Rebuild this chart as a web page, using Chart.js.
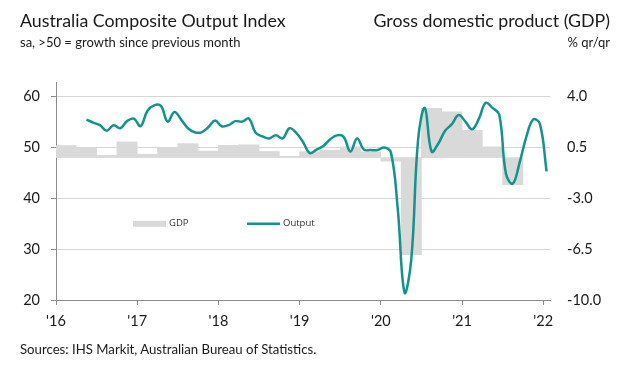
<!DOCTYPE html>
<html>
<head>
<meta charset="utf-8">
<script src="https://cdn.jsdelivr.net/npm/chart.js@4.4.1/dist/chart.umd.min.js"></script>
<style>
  body { margin: 0; background: #fff; }
  #wrap { position: relative; width: 621px; height: 371px; font-family: Lato, "Noto Sans", sans-serif; color: #1a1a1a; }
  #wrap canvas { position: absolute; left: 0; top: 0; }
  .txt { position: absolute; white-space: nowrap; line-height: 1; }
  #title { left: 20px; top: 12px; font-size: 17.8px; }
  #sub { left: 20px; top: 36px; font-size: 13px; }
  #rtitle { right: 11px; top: 12px; font-size: 17.8px; }
  #rsub { right: 11px; top: 36px; font-size: 13px; }
  #src { left: 20px; top: 343px; font-size: 13.2px; }
</style>
</head>
<body>
<div id="wrap">
  <canvas id="pmiChart" width="621" height="371"></canvas>
  <div class="txt" id="title">Australia Composite Output Index</div>
  <div class="txt" id="sub">sa, &gt;50 = growth since previous month</div>
  <div class="txt" id="rtitle">Gross domestic product (GDP)</div>
  <div class="txt" id="rsub">% qr/qr</div>
  <div class="txt" id="src">Sources: IHS Markit, Australian Bureau of Statistics.</div>
</div>
<script>
// ──────── DATA ────────
const yearLabels = ["'16", "'17", "'18", "'19", "'20", "'21", "'22"];
const leftTicks = [20, 30, 40, 50, 60];
const rightTicks = [-10, -6.5, -3, 0.5, 4];

// GDP, quarterly from 2016 Q1 (% qr/qr, read on right axis)
const gdpQuarters = ["Q1 16", "Q2 16", "Q3 16", "Q4 16", "Q1 17", "Q2 17", "Q3 17", "Q4 17",
  "Q1 18", "Q2 18", "Q3 18", "Q4 18", "Q1 19", "Q2 19", "Q3 19", "Q4 19",
  "Q1 20", "Q2 20", "Q3 20", "Q4 20", "Q1 21", "Q2 21", "Q3 21"];
const gdp = [0.64, 0.48, -0.04, 0.89, 0.04, 0.48, 0.77, 0.26,
  0.65, 0.69, 0.23, -0.10, 0.22, 0.32, 0.55, 0.20,
  -0.44, -6.88, 3.20, 2.96, 1.70, 0.55, -2.05];

// Composite output index, monthly from May 2016 to Jan 2022
const outputFirstMonth = 4; // months after Jan 2016
const output = [
  55.5, 54.9, 54.4, 53.3, 54.4, 53.8, 55.2, 55.7,            // May-Dec 16
  54.2, 57.2, 58.3, 58.2, 55.1, 57.0, 55.5, 53.8, 53.0, 53.0, 54.0, 55.3,  // 17
  54.2, 54.4, 55.2, 55.1, 55.7, 52.9, 52.2, 51.8, 52.4, 51.8, 53.8, 52.9,  // 18
  51.1, 48.9, 49.6, 50.3, 51.6, 52.4, 52.1, 49.2, 51.8, 49.6, 49.5, 49.5,  // 19
  50.0, 49.0, 38.0, 21.5, 28.0, 51.4, 57.8, 49.2, 50.8, 53.3, 54.6, 56.4,  // 20
  55.1, 53.6, 55.7, 58.8, 57.8, 56.5, 44.8, 42.9, 47.0, 52.1, 55.5, 54.7,  // 21
  45.3                                                        // Jan 22
];

// ──────── LAYOUT / STYLE ────────
const AXIS_TOP = 62.9;          // left axis runs a little above the 60 line
const BAR_BASE = -0.19;         // bars stand on this right-axis value
const TEAL = "#10958c";
const BAR_GREY = "#d9d9d9";
const AXIS_GREY = "#8c8c8c";
const tickFont = { family: "Lato", size: 14.5 };

const monthsPerQuarter = 3;
const gdpPoints = gdp.map((v, i) => ({ x: i * monthsPerQuarter + 1.5, y: v }));
const outputPoints = output.map((v, i) => ({ x: outputFirstMonth + i + 0.5, y: v }));

// legend drawn inside the plot
const insideLegend = {
  id: "insideLegend",
  afterDatasetsDraw(chart) {
    const { ctx, chartArea } = chart;
    const y = chart.scales.y.getPixelForValue(35);
    const x0 = chartArea.left + 77;
    const x1 = chartArea.left + 191;
    ctx.save();
    ctx.fillStyle = BAR_GREY;
    ctx.fillRect(x0, y - 3, 33, 6);
    ctx.strokeStyle = TEAL;
    ctx.lineWidth = 2.5;
    ctx.beginPath();
    ctx.moveTo(x1, y);
    ctx.lineTo(x1 + 33, y);
    ctx.stroke();
    ctx.fillStyle = "#333";
    ctx.font = "9.5px 'Open Sans'";
    ctx.textBaseline = "middle";
    ctx.fillText("GDP", x0 + 36, y);
    ctx.fillText("Output", x1 + 36, y);
    ctx.restore();
  }
};

new Chart(document.getElementById("pmiChart"), {
  type: "bar",
  data: {
    datasets: [
      {
        type: "line",
        label: "Output",
        data: outputPoints,
        yAxisID: "y",
        borderColor: TEAL,
        borderWidth: 2.5,
        pointRadius: 0,
        tension: 0.4,
        fill: false,
        order: 1
      },
      {
        type: "bar",
        label: "GDP",
        data: gdpPoints,
        yAxisID: "y1",
        base: BAR_BASE,
        backgroundColor: BAR_GREY,
        borderWidth: 0,
        barPercentage: 1,
        categoryPercentage: 1,
        order: 2
      }
    ]
  },
  options: {
    responsive: false,
    animation: false,
    layout: { padding: { top: 82, left: 0, right: 0, bottom: 0 } },
    plugins: { legend: { display: false }, tooltip: { enabled: false } },
    scales: {
      x: {
        type: "linear",
        min: 0,
        max: 73,
        offset: false,
        grid: { offset: false, drawOnChartArea: false, drawTicks: true, tickLength: 5, color: AXIS_GREY },
        border: { color: AXIS_GREY },
        ticks: {
          font: tickFont, color: "#1a1a1a", padding: 8, autoSkip: false, maxRotation: 0,
          callback: v => yearLabels[v / 12]
        },
        afterBuildTicks: s => { s.ticks = yearLabels.map((_, i) => ({ value: i * 12 })); },
        afterFit: s => { s.height = 71; }
      },
      y: {
        position: "left",
        min: 20,
        max: AXIS_TOP,
        grid: { color: "#d6d6d6", tickColor: AXIS_GREY, tickLength: 5 },
        border: { color: AXIS_GREY },
        ticks: { font: tickFont, color: "#1a1a1a", padding: 11 },
        afterBuildTicks: s => { s.ticks = leftTicks.map(v => ({ value: v })); },
        afterFit: s => { s.width = 56; }
      },
      y1: {
        position: "right",
        min: -10,
        max: 4 + (AXIS_TOP - 60) * 0.35,
        grid: { drawOnChartArea: false, drawTicks: false },
        border: { display: false },
        ticks: { font: tickFont, color: "#1a1a1a", padding: 17, callback: v => v.toFixed(1) },
        afterBuildTicks: s => { s.ticks = rightTicks.map(v => ({ value: v })); },
        afterFit: s => { s.width = 71; }
      }
    }
  },
  plugins: [insideLegend]
});
</script>
</body>
</html>
